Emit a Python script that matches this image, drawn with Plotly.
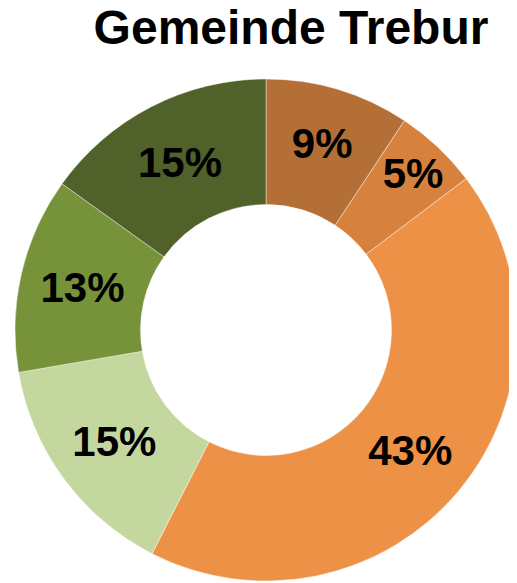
import plotly.graph_objects as go

categories = ["A", "B", "C", "D", "E", "F"]
values = [9.3, 5.4, 42.8, 14.8, 12.6, 15.1]
colors = ["#B46F36", "#D6823E", "#EC9146", "#C4D79F", "#779339", "#506129"]
title_text = "Gemeinde Trebur"

fig = go.Figure(go.Pie(
    labels=categories,
    values=values,
    sort=False,
    direction="clockwise",
    rotation=0,
    hole=0.5,
    marker=dict(colors=colors, line=dict(color="rgba(255,255,255,0.6)", width=0.7)),
    texttemplate="%{percent:.0%}",
    textposition="inside",
    insidetextorientation="horizontal",
    textfont=dict(family="Liberation Sans, Arial, sans-serif", size=42, color="black", weight="bold"),
    showlegend=False,
))

fig.update_layout(
    width=509, height=575,
    margin=dict(l=7, r=0, t=70, b=1),
    paper_bgcolor="white",
    uniformtext=dict(minsize=42, mode="show"),
    title=dict(
        text=title_text, x=283/509, y=1 - 19/575, xref="container", yref="container",
        xanchor="center", yanchor="middle",
        font=dict(family="Liberation Sans, Arial, sans-serif", size=48, color="black", weight="bold"),
    ),
)

fig.write_html("out.html")
